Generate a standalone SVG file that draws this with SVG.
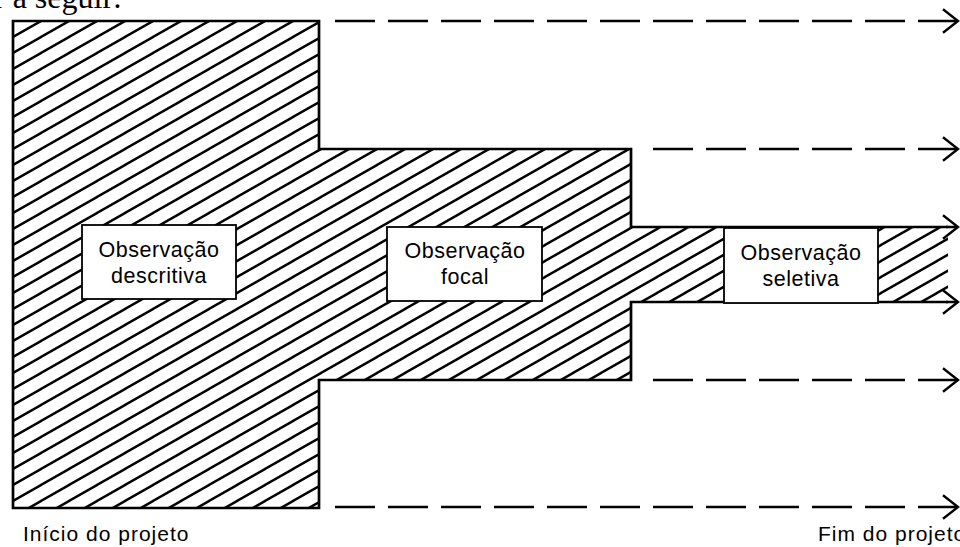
<svg xmlns="http://www.w3.org/2000/svg" width="960" height="547" viewBox="0 0 960 547">
<style>
.outline{fill:none;stroke:#000;stroke-width:2.7;stroke-linejoin:miter}
.box{fill:#fff;stroke:#000;stroke-width:1.8}
.lbl{font-family:"Liberation Sans",Arial,sans-serif;font-size:21.5px;letter-spacing:0.5px;fill:#000;text-anchor:middle}
.foot{font-family:"Liberation Sans",Arial,sans-serif;font-size:21px;letter-spacing:1px;fill:#000}
.dash{fill:none;stroke:#000;stroke-width:2.5;stroke-dasharray:40 13}
.solid{fill:none;stroke:#000;stroke-width:2.5}
</style>
<defs>
<pattern id="hatch" patternUnits="userSpaceOnUse" x="13" y="21" width="28" height="16">
<rect width="28" height="16" fill="#fff"/>
<path d="M-28,32 L56,-16 M-28,16 L28,-16 M0,32 L56,0" stroke="#000" stroke-width="2.4"/>
</pattern>
<marker id="arr" markerUnits="userSpaceOnUse" markerWidth="30" markerHeight="30" refX="0" refY="0" viewBox="-16 -14 18 28" orient="0" overflow="visible">
<path d="M-14,-11 L0,0 L-14,11" fill="none" stroke="#000" stroke-width="2.2"/>
</marker>
</defs>
<text x="-6" y="8" font-family="'Liberation Serif','Times New Roman',serif" font-size="32" fill="#000">r a seguir:</text>
<g id="shape">
<path d="M13,21 H319 V149 H631 V227 H948 V302 H631 V380 H319 V508 H13 Z" fill="url(#hatch)"/>
<path class="outline" d="M948,227 H631 V149 H319 V21 H13 V508 H319 V380 H631 V302 H948"/>
</g>
<g id="connectors">
<path class="dash" d="M958,21 H335" marker-start="url(#arr)"/>
<path class="dash" d="M958,149 H645" marker-start="url(#arr)"/>
<path class="solid" d="M946,227 H958" marker-end="url(#arr)"/>
<path class="solid" d="M946,302 H958" marker-end="url(#arr)"/>
<path class="dash" d="M958,380 H645" marker-start="url(#arr)"/>
<path class="dash" d="M958,507 H335" marker-start="url(#arr)"/>
</g>
<g id="node-descritiva">
<rect class="box" x="82" y="225" width="154" height="74"/>
<text class="lbl" x="159" y="257">Observação</text>
<text class="lbl" x="159" y="283">descritiva</text>
</g>
<g id="node-focal">
<rect class="box" x="387" y="227" width="155" height="74"/>
<text class="lbl" x="465" y="258">Observação</text>
<text class="lbl" x="465" y="284">focal</text>
</g>
<g id="node-seletiva">
<rect class="box" x="724" y="228" width="154" height="75"/>
<text class="lbl" x="801" y="260">Observação</text>
<text class="lbl" x="801" y="286">seletiva</text>
</g>
<g id="labels">
<text class="foot" x="23" y="541">Início do projeto</text>
<text class="foot" x="818" y="541">Fim do projeto</text>
</g>
</svg>
